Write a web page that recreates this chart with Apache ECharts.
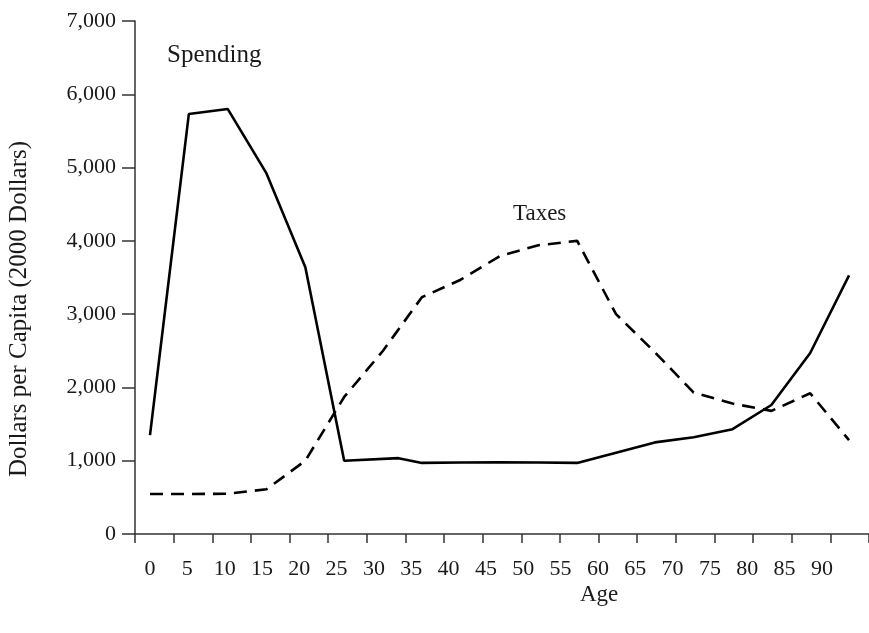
<!DOCTYPE html>
<html>
<head>
<meta charset="utf-8">
<script src="https://cdn.jsdelivr.net/npm/echarts@6/dist/echarts.min.js"></script>
<style>
html,body{margin:0;padding:0;background:#fff;}
#chart{width:869px;height:633px;}
</style>
</head>
<body>
<div id="chart"></div>
<script>
// ---- data ----
var ageLabels = ['0','5','10','15','20','25','30','35','40','45','50','55','60','65','70','75','80','85','90'];
var spendingAges = [0,5,10,15,20,25,32,35,40,45,50,55,60,65,70,75,80,85,90];
var spendingValues = [1350,5730,5800,4920,3640,1000,1035,970,975,980,975,970,1110,1250,1320,1430,1760,2470,3530];
var taxAges = [0,5,10,15,20,25,30,35,40,45,50,55,60,65,70,75,80,85,90];
var taxValues = [545,545,550,610,1000,1870,2500,3230,3470,3790,3940,4000,3000,2480,1930,1780,1680,1920,1280];
var yTicks = [0,1000,2000,3000,4000,5000,6000,7000];

var FONT = 'Liberation Serif, Times New Roman, serif';
var TXT = '#1a1a1a';

function pairs(xs, ys){ return xs.map(function(x,i){ return [x, ys[i]]; }); }

var chart = echarts.init(document.getElementById('chart'));
chart.setOption({
  backgroundColor:'#fff',
  animation:false,
  grid:[
    {left:135, right:0, top:21, bottom:99},
    {left:131.3, right:28.4, top:21, bottom:99}
  ],
  xAxis:[
    {type:'value', gridIndex:0, min:-1.931, max:92.57, show:false},
    {type:'category', gridIndex:0, data:ageLabels, boundaryGap:true, position:'bottom',
     axisLine:{show:true, onZero:false, lineStyle:{color:'#333', width:1.5}},
     axisTick:{show:true, length:9, alignWithLabel:false, lineStyle:{color:'#333', width:1.5}},
     axisLabel:{show:false}, splitLine:{show:false}},
    {type:'category', gridIndex:1, data:ageLabels, boundaryGap:true, position:'bottom',
     axisLine:{show:false, onZero:false}, axisTick:{show:false},
     axisLabel:{show:true, margin:24, color:TXT, fontFamily:FONT, fontSize:22, interval:0},
     splitLine:{show:false}}
  ],
  yAxis:[
    {type:'value', gridIndex:0, min:yTicks[0], max:yTicks[yTicks.length-1], interval:1000,
     axisLine:{show:true, onZero:false, lineStyle:{color:'#333', width:1.5}},
     axisTick:{show:true, length:13, lineStyle:{color:'#333', width:1.5}},
     axisLabel:{show:true, margin:19, color:TXT, fontFamily:FONT, fontSize:22,
       formatter:function(v){ return v.toLocaleString('en-US'); }},
     splitLine:{show:false}},
    {type:'value', gridIndex:1, min:0, max:7000, show:false}
  ],
  series:[
    {name:'Spending', type:'line', xAxisIndex:0, yAxisIndex:0, data:pairs(spendingAges, spendingValues),
     symbol:'none', lineStyle:{color:'#000', width:2.6}},
    {name:'Taxes', type:'line', xAxisIndex:0, yAxisIndex:0, data:pairs(taxAges, taxValues),
     symbol:'none', lineStyle:{color:'#000', width:2.6, type:[13,8]}}
  ],
  graphic:[
    {type:'text', left:167, top:43, style:{text:'Spending', font:'25px ' + FONT, fill:TXT}},
    {type:'text', left:513, top:202, style:{text:'Taxes', font:'23px ' + FONT, fill:TXT}},
    {type:'text', left:580, top:583, style:{text:'Age', font:'23px ' + FONT, fill:TXT}},
    {type:'text', x:19, y:309, rotation:Math.PI/2,
     style:{text:'Dollars per Capita (2000 Dollars)', font:'25px ' + FONT, fill:TXT, align:'center', verticalAlign:'middle'}}
  ]
});
</script>
</body>
</html>
